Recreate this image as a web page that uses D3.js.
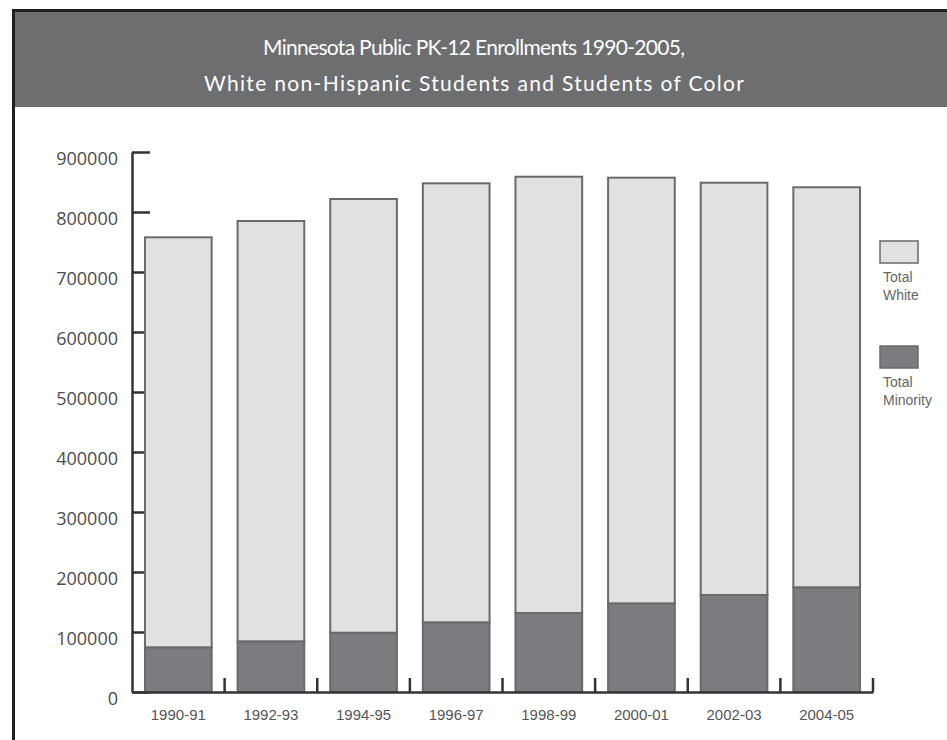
<!DOCTYPE html>
<html>
<head>
<meta charset="utf-8">
<script src="https://cdn.jsdelivr.net/npm/d3@7"></script>
<style>
  body { margin: 0; background: #fff; }
  svg { display: block; }
  .axis path, .axis line { stroke: #333; stroke-width: 2.5; }
  .axis.y text { font-family: "Open Sans", sans-serif; font-size: 18px; fill: #4d4d4d; }
  .axis.x text { font-family: "Liberation Sans", sans-serif; font-size: 15px; fill: #555; }
  .legend text { font-family: "Liberation Sans", sans-serif; font-size: 14px; fill: #666; }
</style>
</head>
<body>
<script>
"use strict";

// school years along the bottom
var years = ['1990-91', '1992-93', '1994-95', '1996-97',
             '1998-99', '2000-01', '2002-03', '2004-05'];

// enrollment counts
var minority = [74500, 84500, 98800, 116200, 131700, 147800, 161700, 174500];
var white    = [683300, 700500, 722900, 731600, 727100, 709400, 687100, 666700];

var y_ticks = [0, 100000, 200000, 300000, 400000, 500000, 600000, 700000, 800000, 900000];

var series_names = ['Total Minority', 'Total White'];
var title_lines = ['Minnesota Public PK-12 Enrollments 1990-2005,',
                   'White non-Hispanic Students and Students of Color'];
// the banner lines are set to these widths in the original
var title_widths = [422, 540];

var width = 947, height = 740;

var colors = {
  'Total White': '#e1e1e3',
  'Total Minority': '#7b7b80'
};

var svg = d3.select('body').append('svg')
  .attr('width', width)
  .attr('height', height);

// frame + title banner ---------------------------------------
svg.append('rect')
  .attr('x', 14).attr('y', 11)
  .attr('width', width - 14).attr('height', 96)
  .attr('fill', '#6d6e70');

svg.append('line')
  .attr('x1', 12).attr('x2', width)
  .attr('y1', 10.5).attr('y2', 10.5)
  .attr('stroke', '#231f20').attr('stroke-width', 3);

svg.append('line')
  .attr('x1', 13.5).attr('x2', 13.5)
  .attr('y1', 9).attr('y2', height)
  .attr('stroke', '#231f20').attr('stroke-width', 3);

svg.append('g')
  .selectAll('text')
  .data(title_lines)
  .enter().append('text')
    .attr('x', 474)
    .attr('y', (d, i) => 55 + i * 36)
    .attr('text-anchor', 'middle')
    .attr('fill', '#fff')
    .attr('textLength', (d, i) => title_widths[i])
    .attr('lengthAdjust', 'spacing')
    .style('font-family', 'Lato, sans-serif')
    .style('font-size', '21px')
    .text(d => d);

// scales -----------------------------------------------------
var x = d3.scaleBand()
  .domain(years)
  .range([132, 873])
  .paddingInner(0.28)
  .paddingOuter(0.14);

var y = d3.scaleLinear()
  .domain([0, 900000])
  .range([692, 152]);

var table = years.map((yr, i) => ({
  year: yr,
  'Total Minority': minority[i],
  'Total White': white[i]
}));

var stacked = d3.stack().keys(series_names)(table);

// y axis, ticks point inward
var y_axis = svg.append('g')
  .attr('class', 'axis y')
  .attr('transform', 'translate(132, 0)')
  .call(d3.axisLeft(y)
    .tickValues(y_ticks)
    .tickFormat(d3.format('d'))
    .tickSizeInner(-18)
    .tickSizeOuter(0)
    .tickPadding(14));

y_axis.selectAll('text').attr('y', 7);

// bars
svg.append('g')
  .selectAll('g')
  .data(stacked)
  .enter().append('g')
    .attr('fill', d => colors[d.key])
  .selectAll('rect')
  .data(d => d)
  .enter().append('rect')
    .attr('x', d => x(d.data.year))
    .attr('y', d => y(d[1]))
    .attr('width', x.bandwidth())
    .attr('height', d => y(d[0]) - y(d[1]))
    .attr('stroke', '#6a6a6c')
    .attr('stroke-width', 2);

// x axis
var x_axis = svg.append('g')
  .attr('class', 'axis x')
  .attr('transform', 'translate(0, 692)')
  .call(d3.axisBottom(x)
    .tickSize(0)
    .tickSizeOuter(0)
    .tickPadding(17));

// small upward ticks between the bars
var gap = (x.step() - x.bandwidth()) / 2;
x_axis.selectAll('.divider')
  .data(years)
  .enter().append('line')
    .attr('class', 'divider')
    .attr('x1', d => x(d) + x.bandwidth() + gap)
    .attr('x2', d => x(d) + x.bandwidth() + gap)
    .attr('y1', 0)
    .attr('y2', -14);

// legend -----------------------------------------------------
var legend = svg.append('g')
  .attr('class', 'legend')
  .attr('transform', 'translate(880, 241)');

var legend_items = legend.selectAll('g')
  .data(['Total White', 'Total Minority'])
  .enter().append('g')
    .attr('transform', (d, i) => `translate(0, ${i * 105})`);

legend_items.append('rect')
  .attr('width', 38)
  .attr('height', 22)
  .attr('fill', d => colors[d])
  .attr('stroke', '#6a6a6c')
  .attr('stroke-width', 1.5);

legend_items.selectAll('text')
  .data(d => d.split(' '))
  .enter().append('text')
    .attr('x', 3)
    .attr('y', (d, i) => 41 + i * 18)
    .text(d => d);
</script>
</body>
</html>
